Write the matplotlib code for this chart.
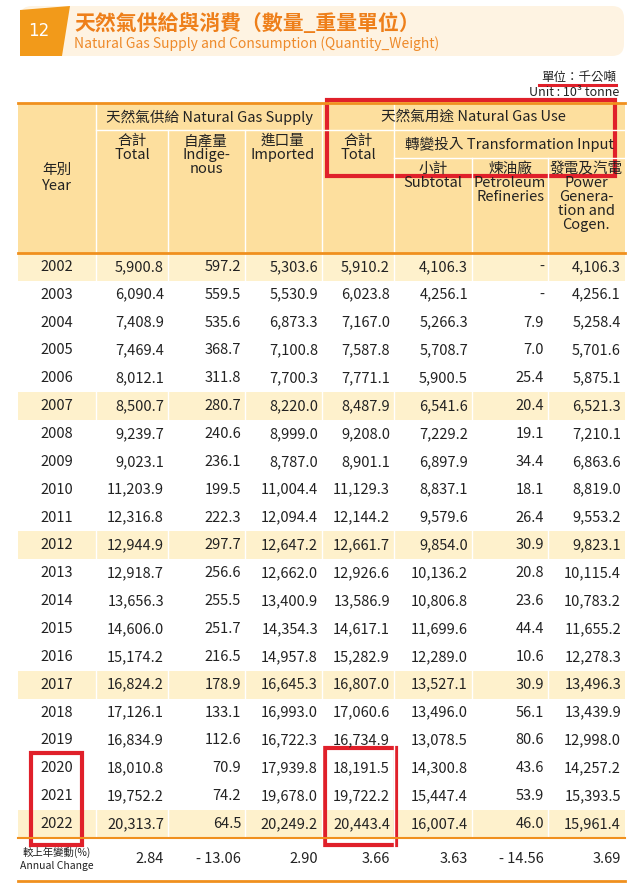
import matplotlib
matplotlib.use("Agg")
import matplotlib.pyplot as plt
from matplotlib.patches import Rectangle, FancyBboxPatch, Polygon
import numpy as np

plt.rcParams["font.family"] = ["Noto Sans CJK TC", "DejaVu Sans"]

years = list(range(2002, 2023))
supply_total = [5900.8, 6090.4, 7408.9, 7469.4, 8012.1, 8500.7, 9239.7, 9023.1, 11203.9, 12316.8,
                12944.9, 12918.7, 13656.3, 14606.0, 15174.2, 16824.2, 17126.1, 16834.9, 18010.8, 19752.2, 20313.7]
indigenous = [597.2, 559.5, 535.6, 368.7, 311.8, 280.7, 240.6, 236.1, 199.5, 222.3,
              297.7, 256.6, 255.5, 251.7, 216.5, 178.9, 133.1, 112.6, 70.9, 74.2, 64.5]
imported = [5303.6, 5530.9, 6873.3, 7100.8, 7700.3, 8220.0, 8999.0, 8787.0, 11004.4, 12094.4,
            12647.2, 12662.0, 13400.9, 14354.3, 14957.8, 16645.3, 16993.0, 16722.3, 17939.8, 19678.0, 20249.2]
use_total = [5910.2, 6023.8, 7167.0, 7587.8, 7771.1, 8487.9, 9208.0, 8901.1, 11129.3, 12144.2,
             12661.7, 12926.6, 13586.9, 14617.1, 15282.9, 16807.0, 17060.6, 16734.9, 18191.5, 19722.2, 20443.4]
subtotal = [4106.3, 4256.1, 5266.3, 5708.7, 5900.5, 6541.6, 7229.2, 6897.9, 8837.1, 9579.6,
            9854.0, 10136.2, 10806.8, 11699.6, 12289.0, 13527.1, 13496.0, 13078.5, 14300.8, 15447.4, 16007.4]
refineries = [None, None, 7.9, 7.0, 25.4, 20.4, 19.1, 34.4, 18.1, 26.4,
              30.9, 20.8, 23.6, 44.4, 10.6, 30.9, 56.1, 80.6, 43.6, 53.9, 46.0]
power = [4106.3, 4256.1, 5258.4, 5701.6, 5875.1, 6521.3, 7210.1, 6863.6, 8819.0, 9553.2,
         9823.1, 10115.4, 10783.2, 11655.2, 12278.3, 13496.3, 13439.9, 12998.0, 14257.2, 15393.5, 15961.4]
annual_change = ["2.84", "- 13.06", "2.90", "3.66", "3.63", "- 14.56", "3.69"]

fig = plt.figure(figsize=(6.36, 8.96), dpi=100)
ax = fig.add_axes([0, 0, 1, 1])
ax.set_xlim(0, 636); ax.set_ylim(896, 0); ax.axis("off")

ORANGE = "#F0901E"; HDR = "#FDDF9E"; HL = "#FEF1CC"; TXT = "#222222"
# Banner
ax.add_patch(FancyBboxPatch((20, 6), 604, 50, boxstyle="round,pad=0,rounding_size=12", fc="#FEF3E2", ec="none"))
ax.add_patch(Polygon([(20, 10), (70, 6), (62, 56), (20, 56)], closed=True, fc="#F29A1A", ec="none"))
ax.text(39, 31, "12", color="white", fontsize=12, ha="center", va="center", family="DejaVu Sans")
ax.text(74, 23, "天然氣供給與消費（數量_重量單位）", color="#EE7F1A", fontsize=15, fontweight="bold", va="center")
ax.text(74, 44, "Natural Gas Supply and Consumption (Quantity_Weight)", color="#EE8A2A", fontsize=10, va="center")

ax.text(616, 77, "單位：千公噸", fontsize=9, ha="right", va="center", color=TXT)
ax.plot([539, 616], [85, 85], color="#E0202A", lw=2.2)
ax.text(619, 93, "Unit : 10³ tonne", fontsize=9, ha="right", va="center", color=TXT)

L, R = 18, 625
cols = [18, 96, 168, 245, 322, 394, 472, 548, 625]
top, hb = 103, 253
ax.add_patch(Rectangle((L, top), R - L, hb - top, fc=HDR, ec="none"))
row_h = 27.85
y0 = hb
for i, y in enumerate(years):
    if y % 5 == 2:
        ax.add_patch(Rectangle((L, y0 + i * row_h), R - L, row_h, fc=HL, ec="none"))
dend = y0 + len(years) * row_h
for x in cols[1:-1]:
    y_start = 130 if x in (168, 245, 472, 548) else top
    if x in (472, 548):
        y_start = 158
    ax.plot([x, x], [y_start, 880], color="white", lw=1)
ax.plot([96, 625], [130, 130], color="white", lw=1)
ax.plot([394, 625], [158, 158], color="white", lw=1)
ax.plot([L, R], [top, top], color=ORANGE, lw=2)
ax.plot([L, R], [hb, hb], color=ORANGE, lw=2)
ax.plot([L, R], [dend, dend], color=ORANGE, lw=1.5)
ax.plot([L, R], [881, 881], color=ORANGE, lw=2)

fs = 10.5
ax.text(57, 178, "年別\nYear", ha="center", va="center", fontsize=fs, color=TXT, linespacing=1.1)
ax.text(209, 117, "天然氣供給 Natural Gas Supply", ha="center", va="center", fontsize=fs, color=TXT)
ax.text(473, 117, "天然氣用途 Natural Gas Use", ha="center", va="center", fontsize=fs, color=TXT)
ax.text(509, 144, "轉變投入 Transformation Input", ha="center", va="center", fontsize=fs, color=TXT)
hdrs = [(132, "合計\nTotal"), (206, "自產量\nIndige-\nnous"), (283, "進口量\nImported"), (358, "合計\nTotal")]
for x, t in hdrs:
    ax.text(x, 134, t, ha="center", va="top", fontsize=fs, color=TXT, linespacing=1.0)
for x, t in [(433, "小計\nSubtotal"), (510, "煉油廠\nPetroleum\nRefineries"), (586, "發電及汽電\nPower\nGenera-\ntion and\nCogen.")]:
    ax.text(x, 162, t, ha="center", va="top", fontsize=fs, color=TXT, linespacing=1.0)

series = [supply_total, indigenous, imported, use_total, subtotal, refineries, power]
for i, y in enumerate(years):
    yc = y0 + (i + 0.5) * row_h
    ax.text(57, yc, str(y), ha="center", va="center", fontsize=fs, color=TXT)
    for j, s in enumerate(series):
        v = s[i]
        t = "-" if v is None else f"{v:,.1f}"
        ax.text(cols[j + 2] - 4, yc, t, ha="right", va="center", fontsize=fs, color=TXT)
ac_y = (dend + 881) / 2
ax.text(57, ac_y - 7, "較上年變動(%)", ha="center", va="center", fontsize=7.5, color=TXT)
ax.text(57, ac_y + 7, "Annual Change", ha="center", va="center", fontsize=7.5, color=TXT)
for j, t in enumerate(annual_change):
    ax.text(cols[j + 2] - 4, ac_y, t, ha="right", va="center", fontsize=fs, color=TXT)

for (x, y, w, h) in [(327, 100, 288, 76), (31, 753, 51, 92), (325, 748, 71, 97)]:
    ax.add_patch(Rectangle((x, y), w, h, fc="none", ec="#E0202A", lw=3))

fig.savefig("out.png", dpi=100)
